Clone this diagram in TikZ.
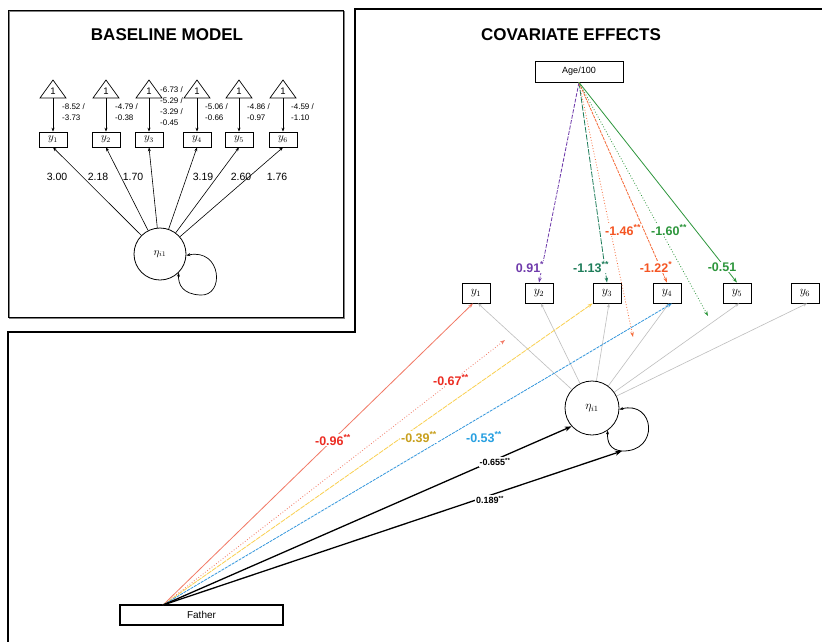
\documentclass[tikz,border=0pt]{standalone}
\usepackage{fontspec}
\setmainfont{Liberation Sans}
\usetikzlibrary{arrows.meta}
\definecolor{redln}{RGB}{242,120,100}
\definecolor{redtx}{RGB}{236,45,35}
\definecolor{orgln}{RGB}{245,105,55}
\definecolor{orgtx}{RGB}{245,85,35}
\definecolor{goldln}{RGB}{250,208,80}
\definecolor{goldtx}{RGB}{200,160,30}
\definecolor{blueln}{RGB}{50,150,220}
\definecolor{bluetx}{RGB}{40,160,225}
\definecolor{purp}{RGB}{112,60,172}
\definecolor{dgreen}{RGB}{30,125,90}
\definecolor{lgreen}{RGB}{45,150,60}
\definecolor{lgray}{RGB}{190,190,190}
\begin{document}
\begin{tikzpicture}[x=1pt,y=-1pt,
  tipb/.style={-{Stealth[length=4pt,width=3pt]}},
  tipboth/.style={{Stealth[length=4pt,width=3pt]}-{Stealth[length=4pt,width=3pt]}},
  bobs/.style={draw,line width=0.7pt,minimum width=28pt,minimum height=15pt,inner sep=0pt,font=\fontsize{10.5}{10.5}\selectfont},
  robs/.style={draw,line width=0.8pt,minimum width=28pt,minimum height=20pt,inner sep=0pt,font=\fontsize{11.5}{11.5}\selectfont},
  small/.style={font=\fontsize{8}{11}\selectfont,anchor=west,align=left,inner sep=0pt},
  loadlab/.style={font=\fontsize{10.5}{10.5}\selectfont,inner sep=0pt},
  title/.style={font=\fontsize{17}{17}\selectfont\bfseries},
  elab/.style={font=\fontsize{12.5}{12.5}\selectfont\bfseries,fill=white,inner sep=1pt},
  klab/.style={font=\fontsize{9}{9}\selectfont\bfseries,fill=white,inner sep=1pt},
  grayarrow/.style={lgray,line width=0.6pt,-{Stealth[length=4pt,width=3pt]}},
  colarrow/.style={line width=0.8pt,-{Stealth[length=5pt,width=3.5pt]}},
  blkarrow/.style={black,line width=1.3pt,-{Stealth[length=7pt,width=5pt]}}
]
\useasboundingbox (0,0) rectangle (822,641);
\fill[white] (0,0) rectangle (822,641);

% ---------------- frames ----------------
\draw[gray,line width=1pt] (9,11) rectangle (344,318);
\draw[black,line width=1pt] (8,10) rectangle (343,317);
\draw[black,line width=1.2pt] (823,9) -- (355,9) -- (355,332) -- (8,332) -- (8,642);

% ---------------- baseline model ----------------
\node[title] (tb) at (167,35) {BASELINE MODEL};

\foreach \i/\cx in {1/53,2/106,3/149,4/197,5/239,6/283}{
  \draw[line width=0.7pt] (\cx,80) -- (\cx-13,98) -- (\cx+13,98) -- cycle;
  \node[font=\fontsize{9.5}{9.5}\selectfont,inner sep=0pt] (one\i) at (\cx,91) {1};
  \coordinate (tbot\i) at (\cx,98);
  \node[bobs] (by\i) at (\cx,139.5) {$y_{\i}$};
  \draw[tipb,line width=0.8pt] (tbot\i) -- (by\i.north);
}
\node[small] (i1) at (62,112) {-8.52 /\\-3.73};
\node[small] (i2) at (115,112) {-4.79 /\\-0.38};
\node[small] (i3) at (160,106.5) {-6.73 /\\-5.29 /\\-3.29 /\\-0.45};
\node[small] (i4) at (205,112) {-5.06 /\\-0.66};
\node[small] (i5) at (247,112) {-4.86 /\\-0.97};
\node[small] (i6) at (291,112) {-4.59 /\\-1.10};

\node[draw,circle,line width=0.8pt,minimum size=52pt,inner sep=0pt,font=\fontsize{10.5}{10.5}\selectfont] (beta) at (160,254) {$\eta_{i1}$};
\foreach \i in {1,...,6}{
  \draw[tipb,line width=0.6pt] (beta) -- (by\i.south);
}
\draw[tipboth,line width=0.7pt] (beta.-3) .. controls (222,248) and (225,297) .. (200,295) .. controls (183,294) and (178,285) .. (beta.-45);
\node[loadlab] (l1) at (57,177) {3.00};
\node[loadlab] (l2) at (98,177) {2.18};
\node[loadlab] (l3) at (133,177) {1.70};
\node[loadlab] (l4) at (203,177) {3.19};
\node[loadlab] (l5) at (241,177) {2.60};
\node[loadlab] (l6) at (277,177) {1.76};

% ---------------- covariate effects ----------------
\node[title] (tc) at (571,35) {COVARIATE EFFECTS};
\node[draw,line width=0.8pt,minimum width=88pt,minimum height=21pt,inner sep=0pt,font=\fontsize{9}{9}\selectfont] (age) at (579,71.5) {Age/100};
\foreach \i/\cx in {1/476,2/539,3/607,4/667,5/737,6/805}{
  \node[robs] (y\i) at (\cx,293) {$y_{\i}$};
}
\node[draw,circle,line width=0.8pt,minimum size=54pt,inner sep=0pt,font=\fontsize{11.5}{11.5}\selectfont] (eta) at (592,408) {$\eta_{i1}$};
\node[draw,line width=1.8pt,minimum width=163pt,minimum height=20pt,inner sep=0pt,font=\fontsize{10}{10}\selectfont] (father) at (201.5,615) {Father};

\coordinate (fa) at (163,605);
\coordinate (ao) at (633,337);
\coordinate (go) at (708,316);
\coordinate (ro) at (505,340);
\coordinate (lpb) at (622,451);

% gray loadings
\foreach \i in {1,...,6}{
  \draw[grayarrow] (eta) -- ([xshift=2pt]y\i.south);
}
% loop
\draw[tipboth,line width=0.8pt] (eta.-3) .. controls (655,400) and (660,452) .. (lpb) .. controls (610,450) and (607,442) .. (eta.-55);

% Age effects
\draw[colarrow,purp,dash pattern=on 4pt off 1.5pt] (age.south) -- (y2.north);
\draw[colarrow,dgreen,dash pattern=on 6pt off 1.5pt] (age.south) -- (y3.north);
\draw[colarrow,orgln,dotted] (age.south) -- (ao);
\draw[colarrow,orgln,dash pattern=on 3pt off 1pt] (age.south) -- (y4.north);
\draw[colarrow,lgreen,dotted] (age.south) -- (go);
\draw[colarrow,lgreen] (age.south) -- (y5.north);

% Father effects
\draw[colarrow,redln] (fa) -- ([xshift=-3pt]y1.south);
\draw[colarrow,redln,dotted] (fa) -- (ro);
\draw[colarrow,goldln,dash pattern=on 5pt off 1pt] (fa) -- (y3.south west);
\draw[colarrow,blueln,dash pattern=on 3pt off 1pt] (fa) -- ([xshift=5pt]y4.south);
\draw[blkarrow] (fa) -- (eta.-138);
\draw[blkarrow] (fa) -- (lpb);

% labels
\node[elab,text=purp] (a1) at (530,267) {0.91\textsuperscript{*}};
\node[elab,text=dgreen] (a2) at (591,267) {-1.13\textsuperscript{**}};
\node[elab,text=orgtx] (a3) at (623,230) {-1.46\textsuperscript{**}};
\node[elab,text=orgtx] (a4) at (656,267) {-1.22\textsuperscript{*}};
\node[elab,text=lgreen] (a5) at (669,230) {-1.60\textsuperscript{**}};
\node[elab,text=lgreen] (a6) at (722,267) {-0.51};

\node[elab,text=redtx] (f1) at (333,440) {-0.96\textsuperscript{**}};
\node[elab,text=redtx] (f2) at (451,380) {-0.67\textsuperscript{**}};
\node[elab,text=goldtx] (f3) at (419,437) {-0.39\textsuperscript{**}};
\node[elab,text=bluetx] (f4) at (484,437) {-0.53\textsuperscript{**}};
\node[klab] (f5) at (495,462) {-0.655\textsuperscript{**}};
\node[klab] (f6) at (490,500) {0.189\textsuperscript{**}};
\end{tikzpicture}
\end{document}
